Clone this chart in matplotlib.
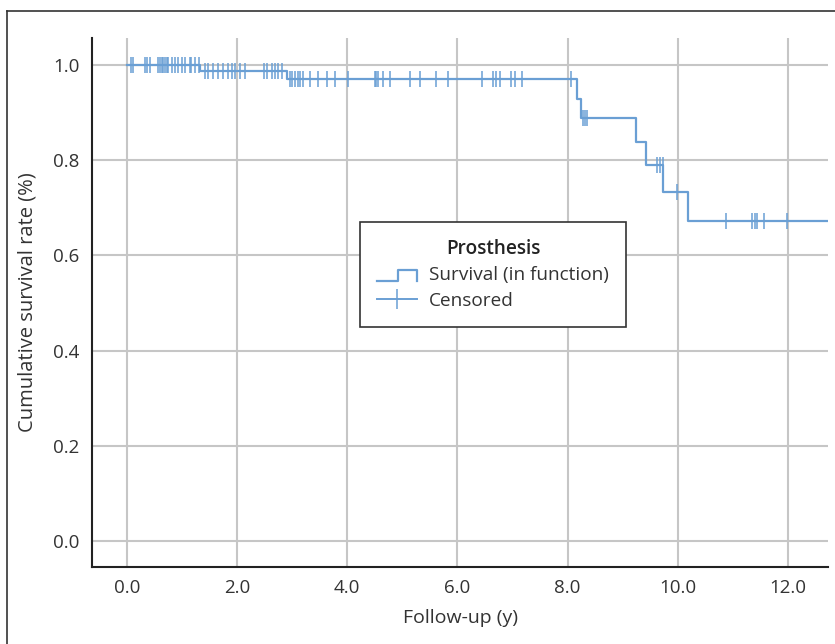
import numpy as np
import matplotlib
matplotlib.use('Agg')
import matplotlib.pyplot as plt
from matplotlib.lines import Line2D
from matplotlib.legend_handler import HandlerBase

plt.rcParams['font.family'] = ['Open Sans', 'DejaVu Sans']

# Kaplan-Meier steps (time of drop, level after drop)
step_times = [0.0, 1.33, 2.90, 8.18, 8.25, 9.24, 9.43, 9.74, 10.19]
step_levels = [1.0, 0.988, 0.970, 0.929, 0.889, 0.838, 0.790, 0.734, 0.673]
t_end = 12.75

# censored observations
censored = [
    0.08, 0.11, 0.33, 0.37, 0.42, 0.57, 0.60, 0.63, 0.66, 0.69, 0.72, 0.75,
    0.81, 0.87, 0.93, 0.99, 1.05, 1.14, 1.17, 1.24, 1.30,
    1.42, 1.48, 1.57, 1.66, 1.75, 1.84, 1.90, 1.96, 2.05, 2.14,
    2.48, 2.54, 2.63, 2.69, 2.75, 2.81,
    2.96, 2.99, 3.05, 3.11, 3.14, 3.20, 3.32, 3.47, 3.63, 3.78, 4.02,
    4.50, 4.53, 4.56, 4.65, 4.77, 5.14, 5.32, 5.62, 5.83,
    6.44, 6.65, 6.71, 6.77, 6.98, 7.04, 7.17, 8.07,
    8.28, 8.32, 8.35, 9.62, 9.68, 9.73, 9.99,
    10.87, 11.35, 11.40, 11.44, 11.56, 11.99,
]

xticks = [0, 2, 4, 6, 8, 10, 12]
yticks = [0.0, 0.2, 0.4, 0.6, 0.8, 1.0]

blue = '#6a9fd4'
txt = '#333333'


def surv_at(t):
    idx = np.searchsorted(step_times, t, side='right') - 1
    return np.array(step_levels)[idx]


class StepHandler(HandlerBase):
    def create_artists(self, legend, orig_handle, xd, yd, w, h, fontsize, trans):
        lo, hi = -yd - 0.05 * h, -yd + 0.78 * h
        xs = [-xd, -xd + 0.52 * w, -xd + 0.52 * w, -xd + w, -xd + w]
        ys = [lo, lo, hi, hi, lo]
        ln = Line2D(xs, ys, color=blue, lw=1.6, transform=trans)
        return [ln]


fig = plt.figure(figsize=(8.35, 6.44), dpi=100)
ax = fig.add_axes([0.1102, 0.1196, 0.8814, 0.8214])

tt = list(step_times) + [t_end]
yy = list(step_levels) + [step_levels[-1]]
ax.step(tt, yy, where='post', color=blue, lw=1.6, zorder=3)

cy = surv_at(np.array(censored))
ax.plot(censored, cy, linestyle='none', marker='|', markersize=11,
        markeredgewidth=1.1, color=blue, zorder=4)

ax.set_xlim(-0.635, 12.73)
ax.set_ylim(-0.055, 1.057)
ax.set_xticks(xticks)
ax.set_xticklabels(['%.1f' % v for v in xticks])
ax.set_yticks(yticks)
ax.set_yticklabels(['%.1f' % v for v in yticks])
ax.tick_params(length=0, labelsize=13.5, colors=txt, pad=9)
ax.grid(True, color='#c6c6c6', lw=1.5)
ax.set_axisbelow(True)
for s in ['top', 'right']:
    ax.spines[s].set_visible(False)
for s in ['left', 'bottom']:
    ax.spines[s].set_color('#222222')
    ax.spines[s].set_linewidth(1.5)

ax.set_xlabel('Follow-up (y)', fontsize=14, color=txt, labelpad=8)
ax.set_ylabel('Cumulative survival rate (%)', fontsize=14.5, color=txt, labelpad=11)

h1 = Line2D([], [], color=blue)
h2 = Line2D([], [], color=blue, marker='|', markersize=15, markeredgewidth=1.1, lw=1.4)
leg = ax.legend([h1, h2], ['Survival (in function)', 'Censored'],
                title='Prosthesis', loc='center', bbox_to_anchor=(0.545, 0.553),
                handler_map={h1: StepHandler()}, numpoints=1,
                fontsize=13.7, title_fontsize=13.7, frameon=True, fancybox=False,
                edgecolor=txt, framealpha=1, borderpad=0.9,
                handlelength=2.1, handletextpad=0.6, labelspacing=0.4)
leg.get_title().set_fontweight('semibold')
leg.get_title().set_color('#222222')
leg.get_frame().set_linewidth(1.2)
for t in leg.get_texts():
    t.set_color(txt)

# outer frame of the figure
fig.add_artist(Line2D([0.0084, 0.0084], [0.0, 0.983], color=txt, lw=1.2))
fig.add_artist(Line2D([0.0084, 1.0], [0.983, 0.983], color=txt, lw=1.2))

fig.savefig('out.png', dpi=100)
